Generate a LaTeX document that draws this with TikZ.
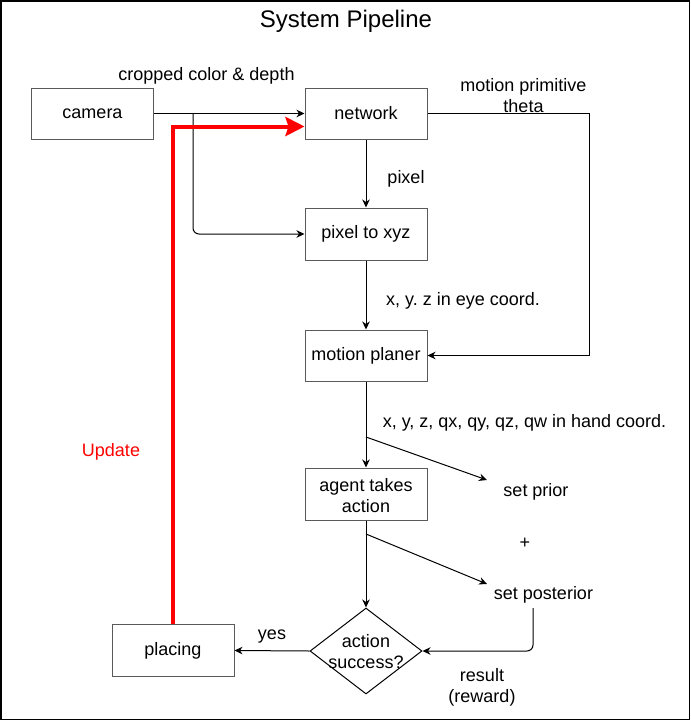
\documentclass[tikz,border=0pt]{standalone}
\usepackage{fontspec}
\setmainfont{Liberation Sans}
\usetikzlibrary{arrows.meta,shapes.geometric}
\newcommand\labfont{\fontsize{18}{21}\selectfont\frenchspacing}
\newcommand\titlefont{\fontsize{24}{28}\selectfont}
\definecolor{boxgray}{RGB}{90,90,90}
\definecolor{upred}{RGB}{255,0,0}
\begin{document}
\begin{tikzpicture}[x=1pt,y=-1pt,
  box/.style={draw=boxgray, line width=1pt, minimum width=122pt, minimum height=51pt, inner sep=0pt, font=\labfont},
  lbl/.style={inner sep=0pt, font=\labfont, align=center},
  one/.style={text height=13pt, text depth=0pt},
  arr/.style={draw=black, line width=1pt, -{Stealth[length=8pt,width=7.5pt,inset=2.5pt]}},
  redarr/.style={draw=upred, line width=4pt, -{Stealth[length=19pt,width=19pt,inset=3pt]}},
]
\useasboundingbox (0,0) rectangle (691,721);
\draw[line width=1.5pt] (1,1) rectangle (689.5,719.5);

\node[lbl, font=\titlefont, text height=17pt, text depth=5pt] (title) at (346,21) {System Pipeline};

% boxes
\node[box] (camera) at (92.5,113.5) {\raisebox{-0.8pt}{camera}};
\node[box] (network) at (366,113.5) {network};
\node[box, minimum height=52pt] (pxyz) at (366,234) {pixel to xyz};
\node[box] (mp) at (366,355.5) {motion planer};
\node[box, minimum height=52pt] (agent) at (366,494) {};
\node[lbl] (agenttext) at (366,495.5) {agent takes\\action};
\node[box, minimum height=52pt] (placing) at (173,650.5) {placing};
\node[draw=black, line width=1pt, shape=diamond, minimum width=112pt, minimum height=86pt, inner sep=0pt] (dec) at (366,651) {};
\node[lbl] (dectext) at (366,652) {action\\success?};

% coordinates
\coordinate (br) at (193,113.5);
\coordinate (brc) at (193,234);
\coordinate (mr1) at (589,113.5);
\coordinate (mr2) at (589,355.5);
\coordinate (rc) at (173,126.5);
\coordinate (p1) at (366,437);
\coordinate (p2) at (487,480);
\coordinate (q1) at (366,534);
\coordinate (q2) at (487,584);
\coordinate (r1) at (533,608);
\coordinate (r2) at (533,651);

% connectors
\draw[arr] (camera.east) -- (network.west);
\draw[arr, rounded corners=6pt] (br) -- (brc) -- (pxyz.west);
\draw[arr] (network.east) -- (mr1) -- (mr2) -- (mp.east);
\draw[arr] (network.south) -- (pxyz.north);
\draw[arr] (pxyz.south) -- (mp.north);
\draw[arr] (mp.south) -- (agent.north);
\draw[arr] (p1) -- (p2);
\draw[arr] (agent.south) -- (dec.north);
\draw[arr] (q1) -- (q2);
\draw[arr, rounded corners=6pt] (r1) -- (r2) -- (dec.east);
\draw[arr] (dec.west) -- (placing.east);
\draw[redarr] (placing.north) -- (rc) -- (rc -| network.west);

% labels
\node[lbl, one] (lcrop) at (206.5,74) {cropped color \& depth};
\node[lbl] (lmot) at (523.5,95.5) {motion primitive\\theta};
\node[lbl, one] (lpix) at (406,177) {pixel};
\node[lbl, one] (leye) at (463,299) {x, y. z in eye coord.};
\node[lbl, one] (lhand) at (524.5,421) {x, y, z, qx, qy, qz, qw in hand coord.};
\node[lbl, one] (lprior) at (536,490) {set prior};
\node[lbl, one] (lplus) at (525,542) {+};
\node[lbl, one] (lpost) at (543.5,593) {set posterior};
\node[lbl] (lres) at (482,687) {result\\(reward)};
\node[lbl, one] (lyes) at (272,633) {yes};
\node[lbl, one, text=upred] (lupd) at (111,450) {Update};
\end{tikzpicture}
\end{document}
